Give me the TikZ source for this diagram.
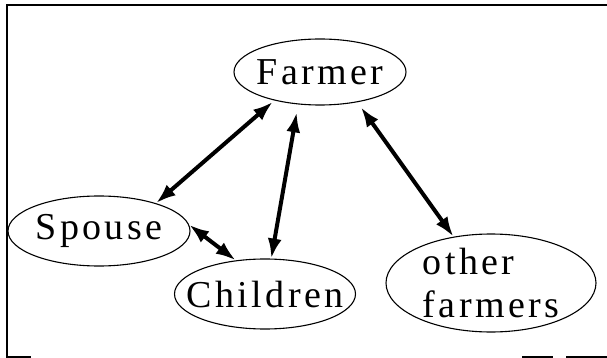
\documentclass[tikz,border=0pt]{standalone}
\usepackage{fontspec}
\setmainfont{Liberation Serif}[LetterSpace=9]
\usetikzlibrary{shapes.geometric,arrows.meta}

\begin{document}
\begin{tikzpicture}[x=1pt,y=-1pt,
    role/.style={draw, ellipse, line width=1.1pt, inner xsep=-18pt, inner ysep=-8pt,
      font=\fontsize{38}{43}\selectfont},
    link/.style={{Latex[length=20pt,width=14pt]}-{Latex[length=20pt,width=14pt]}, line width=4pt}]
  \useasboundingbox (0,0) rectangle (607,358);
  % frame
  \draw[line width=1.3pt] (607,5) -- (7,5) -- (7,357) -- (31,357);
  \draw[line width=1.3pt] (522,357) -- (553,357);
  \draw[line width=1.3pt] (566,357) -- (607,357);

  \node[role, minimum width=172pt, minimum height=66pt] (farmer) at (320,72) {Farmer};
  \node[role, minimum width=182pt, minimum height=70pt] (spouse) at (99,231) {Spouse};
  \node[role, minimum width=181pt, minimum height=70pt] (children) at (265,294) {Children};
  \node[role, align=left, minimum width=210pt, minimum height=98pt] (others) at (491,283) {other\\farmers};

  \draw[link, shorten <=2pt] (farmer.212) -- (spouse.26);
  \draw[link, shorten <=8pt] (farmer.236) -- (children.80);
  \draw[link, shorten <=6pt] (farmer.321) -- (others.129);
  \draw[link] (spouse.4) -- (children.131);
\end{tikzpicture}
\end{document}
